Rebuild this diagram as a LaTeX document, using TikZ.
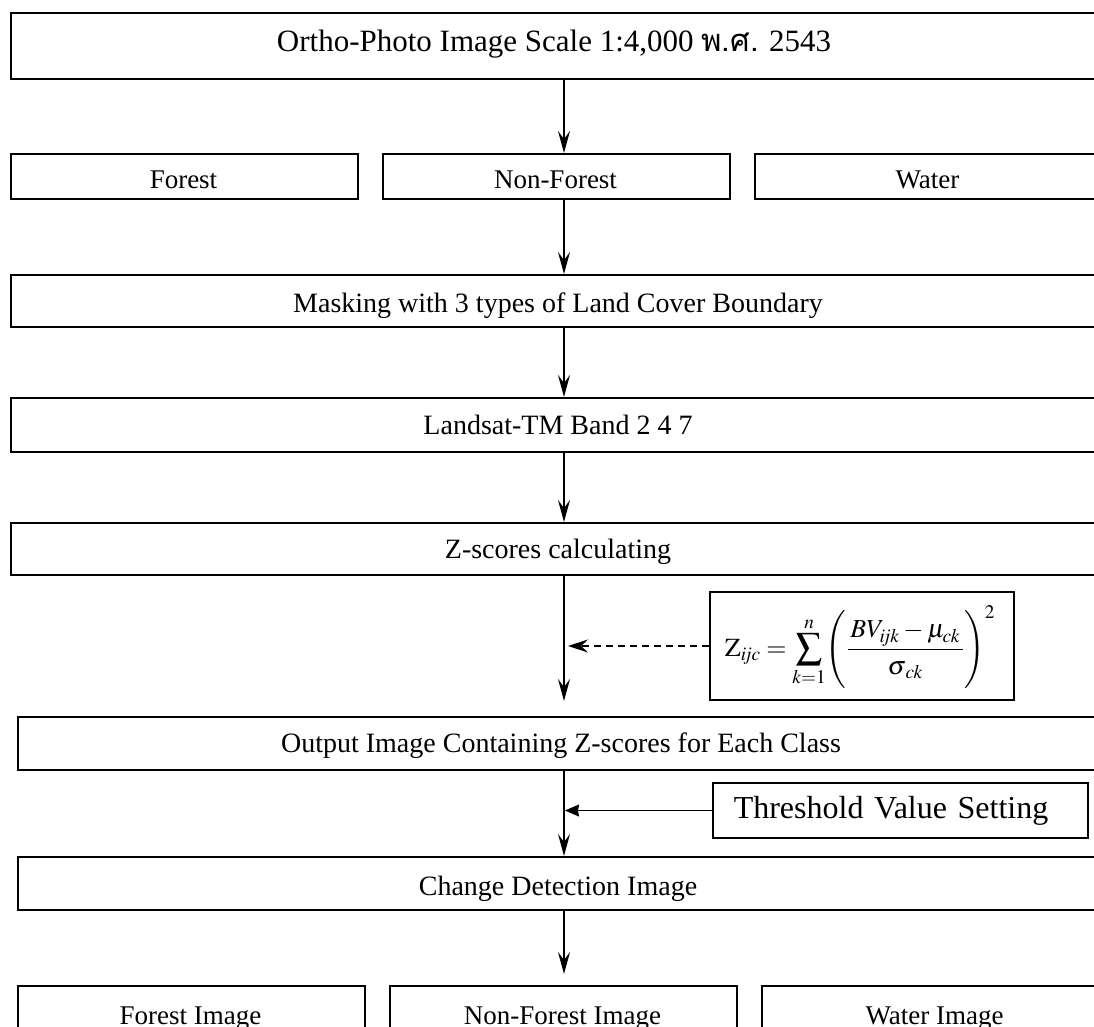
\documentclass[tikz,border=0pt]{standalone}
\usepackage{mathptmx}
\usepackage{fontspec}
\setmainfont{Liberation Serif}
\newfontfamily\thaifont[Script=Thai]{Loma}
\usetikzlibrary{arrows.meta}

\begin{document}
\begin{tikzpicture}[x=1pt,y=-1pt,
  box/.style={draw, line width=1.8pt, inner sep=0pt, anchor=north west},
  rowbox/.style={box, minimum width=347pt},
  lbl/.style={inner sep=0pt, anchor=base, font=\fontsize{28}{32}\selectfont},
  small/.style={lbl, font=\fontsize{27}{31}\selectfont},
  flow/.style={-{Stealth[length=22pt,width=12pt,inset=8pt]}, line width=1.4pt},
  side/.style={line width=1.3pt},
]
\useasboundingbox (0,0) rectangle (1094,1026);
\clip (0,0) rectangle (1094,1026);

% vertical axis of the main flow
\coordinate (axis) at (564,0);

% process boxes
\node[box, minimum width=1120pt, minimum height=66pt] (ortho) at (10,12) {};
\node[rowbox, minimum height=45pt] (forest)    at (10,153)  {};
\node[rowbox, minimum height=45pt] (nonforest) at (382,153) {};
\node[rowbox, minimum height=45pt] (water)     at (754,153) {};
\node[box, minimum width=1100pt, minimum height=52pt] (masking) at (10,274) {};
\node[box, minimum width=1100pt, minimum height=54pt] (landsat) at (10,397) {};
\node[box, minimum width=1100pt, minimum height=52pt] (zscore)  at (10,522) {};
\node[box, minimum width=1100pt, minimum height=53pt] (output)  at (17,716) {};
\node[box, minimum width=1100pt, minimum height=53pt] (change)  at (17,856) {};
\node[rowbox, minimum height=60pt] (fimg)  at (17,985)  {};
\node[rowbox, minimum height=60pt] (nfimg) at (389,985) {};
\node[rowbox, minimum height=60pt] (wimg)  at (761,985) {};

% side inputs
\node[draw, line width=1.3pt, inner sep=0pt, minimum width=304pt, minimum height=108pt] (formula) at (862,646) {};
\node[inner sep=0pt, font=\fontsize{26}{30}\selectfont] (eq) at (860,647)
  {$\displaystyle \mathrm{Z}_{\mathit{ijc}}=\sum_{k=1}^{n}\Biggl(\frac{\,BV_{\mathit{ijk}}-\mu_{\mathit{ck}}\,}{\sigma_{\,\mathit{ck}}}\Biggr)^{2}$};
\node[draw, line width=1.5pt, anchor=west, inner xsep=21pt, inner ysep=0pt,
      minimum height=55pt, text width=333pt, align=left,
      font=\fontsize{32}{36}\selectfont] (thresh) at (712,810.5) {Threshold Value Setting};

% box labels
\node[lbl, font=\fontsize{31}{35}\selectfont] (tortho) at (554,51)
  {Ortho-Photo Image Scale 1:4,000 {\thaifont พ.ศ.} 2543};
\node[small] (tforest)    at (183.5,188) {Forest};
\node[small] (tnonforest) at (555.5,188) {Non-Forest};
\node[small] (twater)     at (927.5,188) {Water};
\node[lbl] (tmasking) at (558,312) {Masking with 3 types of Land Cover Boundary};
\node[lbl] (tlandsat) at (558,434) {Landsat-TM Band 2 4 7};
\node[lbl] (tzscore)  at (558,558) {Z-scores calculating};
\node[lbl] (toutput)  at (561,752) {Output Image Containing Z-scores for Each Class};
\node[lbl] (tchange)  at (558,895) {Change Detection Image};
\node[small] (tfimg)  at (190.5,1024) {Forest Image};
\node[small] (tnfimg) at (562.5,1024) {Non-Forest Image};
\node[small] (twimg)  at (934.5,1024) {Water Image};

% main flow
\draw[flow] (ortho.south -| axis) -- (nonforest.north -| axis);
\draw[flow] (nonforest.south -| axis) -- (masking.north -| axis);
\draw[flow] (masking.south -| axis) -- (landsat.north -| axis);
\draw[flow] (landsat.south -| axis) -- (zscore.north -| axis);
\draw[flow, shorten >=15pt] (zscore.south -| axis) -- (output.north -| axis);
\draw[flow] (output.south -| axis) -- (change.north -| axis);
\draw[flow, shorten >=11pt] (change.south -| axis) -- (nfimg.north -| axis);

% inputs joining the flow
\draw[side, dashed, dash pattern=on 7pt off 5pt,
      -{Stealth[length=20pt,width=13pt,inset=7pt]}, shorten >=4pt]
  (formula.west) -- (formula.west -| axis);
\draw[side, -{Stealth[length=14pt,width=12pt,inset=1pt]}, shorten >=1pt]
  (thresh.west) -- (thresh.west -| axis);
\end{tikzpicture}
\end{document}
